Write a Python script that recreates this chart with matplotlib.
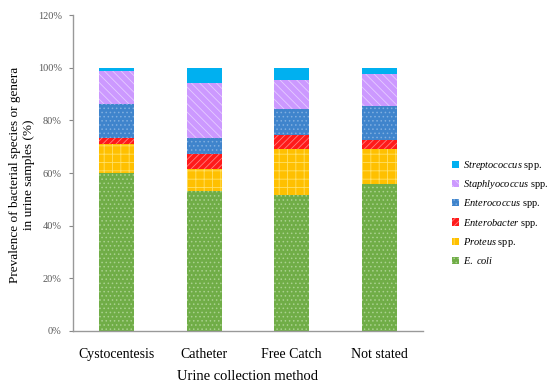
import matplotlib
matplotlib.use("Agg")
import matplotlib.pyplot as plt
import numpy as np
from matplotlib.ticker import FuncFormatter

plt.rcParams['font.family'] = ['Liberation Serif', 'DejaVu Serif']
plt.rcParams['mathtext.fontset'] = 'custom'
plt.rcParams['mathtext.rm'] = 'Liberation Serif'
plt.rcParams['mathtext.it'] = 'Liberation Serif:italic'
plt.rcParams['hatch.linewidth'] = 0.6

methods = ['Cystocentesis', 'Catheter', 'Free Catch', 'Not stated']

# percentages per collection method (stack order bottom -> top)
e_coli = [60.0, 53.2, 51.8, 55.7]
proteus = [11.0, 8.3, 17.3, 13.3]
enterobacter = [2.3, 5.6, 5.2, 3.4]
enterococcus = [12.8, 6.3, 10.1, 13.2]
staphylococcus = [12.7, 20.8, 10.8, 11.9]
streptococcus = [1.2, 5.8, 4.8, 2.5]

labels = [r'$\it{E.\ coli}$', r'$\it{Proteus}$ spp.', r'$\it{Enterobacter}$ spp.',
          r'$\it{Enterococcus}$ spp.', r'$\it{Staphlyococcus}$ spp.',
          r'$\it{Streptococcus}$ spp.']
series = [e_coli, proteus, enterobacter, enterococcus, staphylococcus, streptococcus]
colors = ['#70AD47', '#FFC000', '#FF1A1A', '#3F84CC', '#CC99FF', '#00B0F0']
hatch_colors = ['#A9D18E', '#FFE066', '#FF8080', '#7FAEE0', '#E5CCFF', '#00B0F0']
hatches = ['....', '++', '/////', '....', '\\\\\\\\', None]

fig = plt.figure(figsize=(5.5, 3.91), dpi=100)
ax = fig.add_axes([0.1327, 0.1535, 0.636, 0.808])

x = np.arange(len(methods))
bottom = np.zeros(len(methods))
handles = []
for vals, lab, c, hc, h in zip(series, labels, colors, hatch_colors, hatches):
    b = ax.bar(x, vals, 0.4, bottom=bottom, color=c, edgecolor=hc,
               hatch=h, linewidth=0, label=lab)
    handles.append(b)
    bottom += np.array(vals)

ax.set_xlim(-0.5, 3.5)
ax.set_ylim(0, 120)
ax.set_yticks(np.arange(0, 121, 20))
ax.yaxis.set_major_formatter(FuncFormatter(lambda v, p: f'{int(v)}%'))
ax.set_xticks(x)
ax.set_xticklabels(methods, fontsize=10)
ax.tick_params(axis='x', length=0, pad=12)
ax.tick_params(axis='y', labelsize=7.5, labelcolor='#595959', length=3,
               color='#888888', pad=5)

for s in ['top', 'right']:
    ax.spines[s].set_visible(False)
for s in ['left', 'bottom']:
    ax.spines[s].set_color('#999999')
    ax.spines[s].set_linewidth(1.0)

ax.set_xlabel('Urine collection method', fontsize=10.5, labelpad=7)
fig.text(22 / 550, 1 - 175 / 391,
         'Prevalence of bacterial species or genera\nin urine samples (%)',
         rotation=90, ha='center', va='center', multialignment='center',
         fontsize=9.5, linespacing=1.2)

leg = fig.legend(handles[::-1], labels[::-1], loc='center left',
                 bbox_to_anchor=(452 / 550, 1 - 212.5 / 391), frameon=False,
                 fontsize=7.5, handlelength=0.7, handleheight=0.7,
                 handletextpad=0.4, labelspacing=0.6, borderpad=0,
                 borderaxespad=0)

fig.savefig('out.png', dpi=100)
